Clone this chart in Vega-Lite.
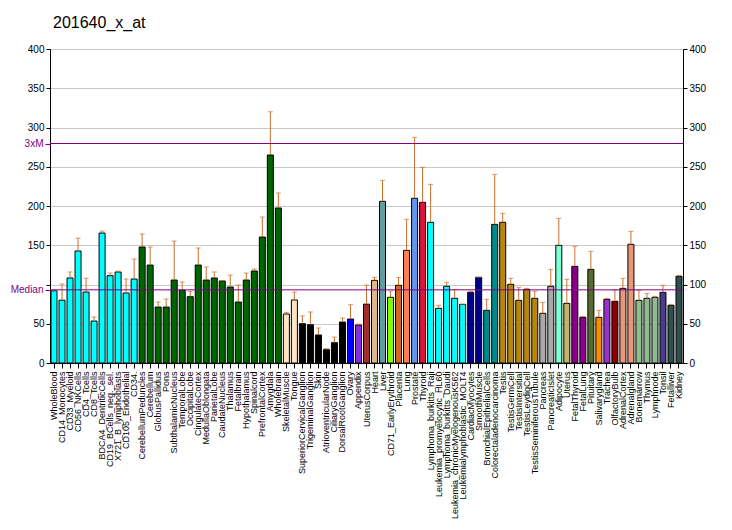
{
  "$schema": "https://vega.github.io/schema/vega-lite/v6.json",
  "width": 633,
  "height": 314,
  "autosize": {"type": "none"},
  "padding": {"left": 50, "top": 49, "right": 49, "bottom": 167},
  "background": "white",
  "title": {"text": "201640_x_at", "anchor": "start", "frame": "group", "fontSize": 16, "font": "Liberation Sans", "fontWeight": "normal", "offset": 0, "dx": 3, "baseline": "alphabetic", "color": "black"},
  "config": {
    "view": {"stroke": null},
    "axis": {"labelFont": "Liberation Sans", "labelColor": "black", "tickColor": "black", "domainColor": "black"}
  },
  "datasets": {
    "bars": [
      {"name": "WholeBlood", "group": "immune", "value": 92, "err": 93},
      {"name": "CD14_Monocytes", "group": "immune", "value": 80, "err": 100.6},
      {"name": "CD33_Myeloid", "group": "immune", "value": 108.3, "err": 116},
      {"name": "CD56_NKCells", "group": "immune", "value": 142.7, "err": 159},
      {"name": "CD4_Tcells", "group": "immune", "value": 90.4, "err": 108},
      {"name": "CD8_Tcells", "group": "immune", "value": 53.5, "err": 58.6},
      {"name": "BDCA4_DentriticCells", "group": "immune", "value": 165.6, "err": 168},
      {"name": "CD19_BCells_neg._sel.", "group": "immune", "value": 111.3, "err": 114.6},
      {"name": "X721_B_lymphoblasts", "group": "immune", "value": 115.9, "err": 117},
      {"name": "CD105_Endothelial", "group": "immune", "value": 89.2, "err": 107},
      {"name": "CD34.", "group": "immune", "value": 107, "err": 132.5},
      {"name": "CerebellumPeduncles", "group": "brain", "value": 147.8, "err": 164.3},
      {"name": "Cerebellum", "group": "brain", "value": 124.8, "err": 147.8},
      {"name": "GlobusPallidus", "group": "brain", "value": 71.3, "err": 77.7},
      {"name": "Pons", "group": "brain", "value": 71.3, "err": 81.5},
      {"name": "SubthalamicNucleus", "group": "brain", "value": 105.7, "err": 155.4},
      {"name": "TemporalLobe", "group": "brain", "value": 92.6, "err": 103.2},
      {"name": "OccipitalLobe", "group": "brain", "value": 84.5, "err": 91.3},
      {"name": "CingulateCortex", "group": "brain", "value": 124.8, "err": 146.5},
      {"name": "MedullaOblongata", "group": "brain", "value": 105.7, "err": 122.3},
      {"name": "ParietalLobe", "group": "brain", "value": 108.3, "err": 116},
      {"name": "CaudateNucleus", "group": "brain", "value": 104.5, "err": 104.8},
      {"name": "Thalamus", "group": "brain", "value": 96.8, "err": 112.1},
      {"name": "Fetalbrain", "group": "brain", "value": 77.7, "err": 99.4},
      {"name": "Hypothalamus", "group": "brain", "value": 105.7, "err": 114.6},
      {"name": "Spinalcord", "group": "brain", "value": 117.2, "err": 119.7},
      {"name": "PrefrontalCortex", "group": "brain", "value": 160.5, "err": 186},
      {"name": "Amygdala", "group": "brain", "value": 265, "err": 320},
      {"name": "Wholebrain", "group": "brain", "value": 197.5, "err": 216.6},
      {"name": "SkeletalMuscle", "group": "muscle", "value": 62.4, "err": 64.5},
      {"name": "Tongue", "group": "muscle", "value": 80.3, "err": 90.4},
      {"name": "SuperiorCervicalGanglion", "group": "ganglion", "value": 50.1, "err": 59.9},
      {"name": "TrigeminalGanglion", "group": "ganglion", "value": 48.8, "err": 65},
      {"name": "Skin", "group": "ganglion", "value": 35.7, "err": 44.6},
      {"name": "AtrioventricularNode", "group": "ganglion", "value": 17, "err": 18.3},
      {"name": "CiliaryGanglion", "group": "ganglion", "value": 25.9, "err": 33.1},
      {"name": "DorsalRootGanglion", "group": "ganglion", "value": 52.2, "err": 57.3},
      {"name": "Ovary", "group": "ovary", "value": 56, "err": 74.3},
      {"name": "Appendix", "group": "appendix", "value": 48.4, "err": 49.7},
      {"name": "UterusCorpus", "group": "uteruscorpus", "value": 75, "err": 99.2},
      {"name": "Heart", "group": "heart", "value": 105.3, "err": 109.1},
      {"name": "Liver", "group": "liver", "value": 206, "err": 232.7},
      {"name": "CD71_EarlyErythroid", "group": "erythroid", "value": 83.7, "err": 91.7},
      {"name": "Placenta", "group": "placenta", "value": 99, "err": 109},
      {"name": "Lung", "group": "lung", "value": 143.5, "err": 183},
      {"name": "Prostate", "group": "prostate", "value": 209.8, "err": 287.5},
      {"name": "Thyroid", "group": "thyroid", "value": 204.7, "err": 249.3},
      {"name": "Lymphoma_burkitts_Raji", "group": "cancer", "value": 179.2, "err": 227.6},
      {"name": "Leukemia_promyelocytic_HL60", "group": "cancer", "value": 69.6, "err": 73.5},
      {"name": "Lymphoma_burkitts_Daudi", "group": "cancer", "value": 97.7, "err": 102.8},
      {"name": "Leukemia_chronicMyelogenousK562", "group": "cancer", "value": 82.4, "err": 93.8},
      {"name": "Leukemialymphoblastic_MOLT4", "group": "cancer", "value": 74.7, "err": 74.9},
      {"name": "CardiacMyocytes", "group": "musclecells", "value": 90, "err": 91.3},
      {"name": "SmoothMuscle", "group": "musclecells", "value": 109.1, "err": 109.3},
      {"name": "BronchialEpithelialCells", "group": "epithelial", "value": 67.1, "err": 81.1},
      {"name": "Colorectaladenocarcinoma", "group": "epithelial", "value": 176.6, "err": 240.3},
      {"name": "Testis", "group": "testis", "value": 179.2, "err": 190.7},
      {"name": "TestisGermCell", "group": "testis", "value": 100.2, "err": 107.9},
      {"name": "TestisIntersitial", "group": "testis", "value": 79.8, "err": 96.4},
      {"name": "TestisLeydigCell", "group": "testis", "value": 93.8, "err": 95.1},
      {"name": "TestisSeminiferousTubule", "group": "testis", "value": 82.4, "err": 91.3},
      {"name": "Pancreas", "group": "pancreas", "value": 63.3, "err": 77.3},
      {"name": "PancreaticIslet", "group": "pancreas", "value": 97.7, "err": 119.3},
      {"name": "Adipocyte", "group": "adipocyte", "value": 149.9, "err": 184.3},
      {"name": "Uterus", "group": "uterus", "value": 76, "err": 106.6},
      {"name": "FetalThyroid", "group": "fetal", "value": 123.1, "err": 148.6},
      {"name": "FetalLung", "group": "fetal", "value": 58.2, "err": 59.4},
      {"name": "Pituitary", "group": "pituitary", "value": 119.3, "err": 142.3},
      {"name": "Salivarygland", "group": "salivary", "value": 58.2, "err": 67.1},
      {"name": "Trachea", "group": "trachea", "value": 81.1, "err": 82.4},
      {"name": "OlfactoryBulb", "group": "olfactory", "value": 78.6, "err": 92.6},
      {"name": "AdrenalCortex", "group": "adrenal", "value": 95.1, "err": 107.9},
      {"name": "Adrenalgland", "group": "adrenal", "value": 151.2, "err": 167.7},
      {"name": "Bonemarrow", "group": "lymphoid", "value": 79.8, "err": 92.6},
      {"name": "Thymus", "group": "lymphoid", "value": 82.4, "err": 88.7},
      {"name": "Lymphnode", "group": "lymphoid", "value": 83.7, "err": 84.9},
      {"name": "Tonsil", "group": "tonsil", "value": 90, "err": 99},
      {"name": "Fetalliver", "group": "slate", "value": 73.5, "err": 74.7},
      {"name": "Kidney", "group": "slate", "value": 110.4, "err": 111.7}
    ],
    "lines": [
      {"label": "Median", "v": 93.2},
      {"label": "3xM", "v": 279.6}
    ]
  },
  "layer": [
    {
      "data": {"name": "bars"},
      "mark": {"type": "bar", "stroke": "black", "strokeWidth": 1},
      "encoding": {
        "x": {
          "field": "name", "type": "nominal", "sort": null,
          "scale": {"paddingInner": 0.25, "paddingOuter": 0.125},
          "axis": {"title": null, "labelAngle": -90, "labelFontSize": 9, "labelOverlap": false, "labelLimit": 200, "tickSize": 5, "labelPadding": 3}
        },
        "y": {
          "field": "value", "type": "quantitative",
          "scale": {"domain": [0, 400], "nice": false},
          "axis": {"orient": "left", "title": null, "values": [0, 50, 100, 150, 200, 250, 300, 350, 400], "labelExpr": "datum.value == 100 ? '' : datum.label", "labelFontSize": 10, "gridColor": "#C8C8C8", "tickSize": 4, "labelPadding": 2}
        },
        "fill": {
          "field": "group", "type": "nominal", "legend": null,
          "scale": {
            "domain": ["immune", "brain", "muscle", "ganglion", "ovary", "appendix", "uteruscorpus", "heart", "liver", "erythroid", "placenta", "lung", "prostate", "thyroid", "cancer", "musclecells", "epithelial", "testis", "pancreas", "adipocyte", "uterus", "fetal", "pituitary", "salivary", "trachea", "olfactory", "adrenal", "lymphoid", "tonsil", "slate"],
            "range": ["#00FFFF", "#006400", "#FFE4C4", "#000000", "#0000FF", "#8A2BE2", "#A52A2A", "#DEB887", "#5F9EA0", "#7FFF00", "#D2691E", "#FF7F50", "#6495ED", "#DC143C", "#00FFFF", "#00008B", "#008B8B", "#B8860B", "#A9A9A9", "#7FFFD4", "#BDB76B", "#8B008B", "#556B2F", "#FF8C00", "#9932CC", "#8B0000", "#E9967A", "#8FBC8F", "#483D8B", "#2F4F4F"]
          }
        }
      }
    },
    {
      "data": {"name": "bars"},
      "mark": {"type": "rule", "color": "#C8702F", "strokeWidth": 1},
      "encoding": {
        "x": {"field": "name", "type": "nominal", "sort": null},
        "y": {"field": "value", "type": "quantitative", "axis": null},
        "y2": {"field": "err"}
      }
    },
    {
      "data": {"name": "bars"},
      "mark": {"type": "tick", "color": "#C8702F", "size": 5, "thickness": 1},
      "encoding": {
        "x": {"field": "name", "type": "nominal", "sort": null},
        "y": {"field": "err", "type": "quantitative", "axis": {"orient": "right", "title": null, "values": [0, 50, 100, 150, 200, 250, 300, 350, 400], "labelFontSize": 10, "grid": false, "tickSize": 4, "labelPadding": 2}}
      }
    },
    {
      "data": {"name": "lines"},
      "mark": {"type": "rule", "color": "#800080", "strokeWidth": 1},
      "encoding": {
        "y": {"field": "v", "type": "quantitative", "axis": {"orient": "left", "title": null, "values": [93.2, 279.6], "labelExpr": "datum.value < 150 ? 'Median' : '3xM'", "labelColor": "#800080", "tickColor": "#800080", "labelFontSize": 10, "grid": false, "domain": false, "tickSize": 5, "labelPadding": 2}}
      }
    }
  ],
  "resolve": {"axis": {"y": "independent"}}
}
